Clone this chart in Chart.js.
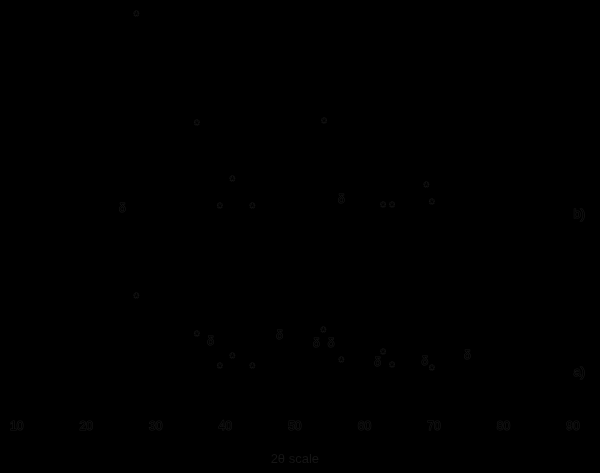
<!DOCTYPE html>
<html>
<head>
<meta charset="utf-8">
<script src="https://cdn.jsdelivr.net/npm/chart.js@4.4.1/dist/chart.umd.min.js"></script>
<style>
  html, body { margin: 0; padding: 0; background: #000; }
  #wrap { width: 600px; height: 473px; }
</style>
</head>
<body>
<div id="wrap"><canvas id="xrdChart"></canvas></div>
<script>
// diffractogram b) (upper trace), 2θ in degrees vs relative intensity
const anglesB = [10, 20, 24.5, 25.2, 25.9, 26.8, 27.2, 27.6, 35.5, 35.9, 36.3, 38.8, 39.2, 39.6, 40.6, 41.0, 41.4, 43.5, 43.9, 44.3,
  53.8, 54.2, 54.6, 56.3, 56.7, 57.1, 62.4, 62.7, 63.4, 64.0, 64.4, 68.5, 68.9, 69.3, 69.7, 70.1, 90];
const countsB = [44, 43, 44, 47, 44, 45, 94, 45, 44, 67, 44, 44, 47, 44, 44, 53, 44, 44, 47, 43,
  43, 68, 43, 43, 49, 43, 43, 47, 43, 47, 43, 43, 52, 43, 48, 43, 42];

// diffractogram a) (lower trace)
const anglesA = [10, 26.8, 27.2, 27.6, 35.5, 35.9, 36.3, 37.6, 37.9, 38.3, 38.8, 39.2, 39.6, 40.6, 41.0, 41.4, 43.5, 43.9, 44.3,
  47.4, 47.8, 48.2, 52.8, 53.1, 53.5, 53.8, 54.1, 54.5, 54.9, 55.2, 55.6, 56.3, 56.7, 57.1, 61.6, 61.9, 62.3, 62.7, 63.1, 63.7, 64.0, 64.4,
  68.4, 68.7, 69.1, 69.4, 69.7, 70.1, 74.5, 74.8, 75.2, 90];
const countsA = [6, 6, 24, 6, 6, 15, 6, 6, 13, 6, 6, 8, 6, 6, 10, 6, 6, 8, 6,
  6, 14, 6, 6, 13, 6, 6, 16, 6, 6, 13, 6, 6, 9, 6, 6, 9, 6, 11, 6, 6, 8, 5,
  5, 9, 5, 5, 7, 5, 5, 10, 5, 5];

// peak markers: * and δ
const markAnglesB = [27.2, 25.2, 35.9, 39.2, 41.0, 43.9, 54.2, 56.7, 62.7, 64.0, 68.9, 69.7];
const markLevelsB = [97.1, 48.8, 69.8, 49.3, 55.9, 49.3, 70.5, 51.0, 49.5, 49.5, 54.4, 50.2];
const markSymbolsB = ["*", "δ", "*", "*", "*", "*", "*", "δ", "*", "*", "*", "*"];

const markAnglesA = [27.2, 35.9, 37.9, 39.2, 41.0, 43.9, 47.8, 53.1, 54.1, 55.2, 56.7, 61.9, 62.7, 64.0, 68.7, 69.7, 74.8];
const markLevelsA = [26.8, 17.3, 15.6, 9.3, 11.7, 9.3, 17.1, 15.1, 18.3, 15.1, 10.7, 10.2, 12.9, 9.5, 10.5, 8.8, 12.0];
const markSymbolsA = ["*", "*", "δ", "*", "*", "*", "δ", "δ", "*", "δ", "*", "δ", "*", "*", "δ", "*", "δ"];

const traceNames = ["b)", "a)"];
const traceNameAngle = 90.9;
const traceNameLevels = [47.6, 8.0];

const toPoints = (xs, ys) => xs.map((x, i) => ({ x: x, y: ys[i] }));

const halo = "#171717";

const background = {
  id: "background",
  beforeDraw(chart) {
    const c = chart.ctx;
    c.save();
    c.fillStyle = "#000";
    c.fillRect(0, 0, chart.width, chart.height);
    c.restore();
  }
};

function haloText(c, txt, x, y) {
  c.strokeText(txt, x, y);
  c.fillText(txt, x, y);
}

const peakMarks = {
  id: "peakMarks",
  afterDatasetsDraw(chart) {
    const c = chart.ctx;
    const sx = chart.scales.x;
    const sy = chart.scales.y;
    c.save();
    c.textAlign = "center";
    c.textBaseline = "middle";
    c.lineWidth = 1.2;
    c.strokeStyle = halo;
    c.fillStyle = "#000";
    const groups = [[markAnglesB, markLevelsB, markSymbolsB], [markAnglesA, markLevelsA, markSymbolsA]];
    groups.forEach(([xs, ys, syms]) => {
      xs.forEach((a, i) => {
        const star = syms[i] === "*";
        c.font = star ? "bold 12px 'Liberation Sans'" : "12px 'Liberation Sans'";
        // the asterisk glyph sits high in the em box, nudge it down to its visual centre
        haloText(c, syms[i], sx.getPixelForValue(a), sy.getPixelForValue(ys[i]) + (star ? 5 : 3));
      });
    });
    c.font = "13px 'Liberation Sans'";
    traceNames.forEach((t, i) => {
      haloText(c, t, sx.getPixelForValue(traceNameAngle), sy.getPixelForValue(traceNameLevels[i]) + 4);
    });
    c.restore();
  }
};

new Chart(document.getElementById("xrdChart").getContext("2d"), {
  type: "scatter",
  data: {
    datasets: [
      { label: "b)", data: toPoints(anglesB, countsB), showLine: true, borderColor: "#000", borderWidth: 1, pointRadius: 0, tension: 0 },
      { label: "a)", data: toPoints(anglesA, countsA), showLine: true, borderColor: "#000", borderWidth: 1, pointRadius: 0, tension: 0 }
    ]
  },
  options: {
    responsive: true,
    maintainAspectRatio: false,
    animation: false,
    layout: { padding: { left: 8, right: 27, top: 0, bottom: 6 } },
    plugins: {
      legend: { display: false },
      tooltip: { enabled: false }
    },
    scales: {
      x: {
        type: "linear",
        min: 10,
        max: 90,
        grid: { display: false },
        border: { display: true, color: "#000" },
        ticks: {
          stepSize: 10,
          padding: 10,
          color: "#000",
          textStrokeColor: halo,
          textStrokeWidth: 1.2,
          font: { family: "'Liberation Sans'", size: 12 }
        },
        title: {
          display: true,
          text: "2θ scale",
          color: "#151515",
          padding: { top: 8, bottom: 0 },
          font: { family: "'Liberation Sans'", size: 13 }
        }
      },
      y: {
        display: false,
        min: 0,
        max: 100
      }
    }
  },
  plugins: [background, peakMarks]
});
</script>
</body>
</html>
